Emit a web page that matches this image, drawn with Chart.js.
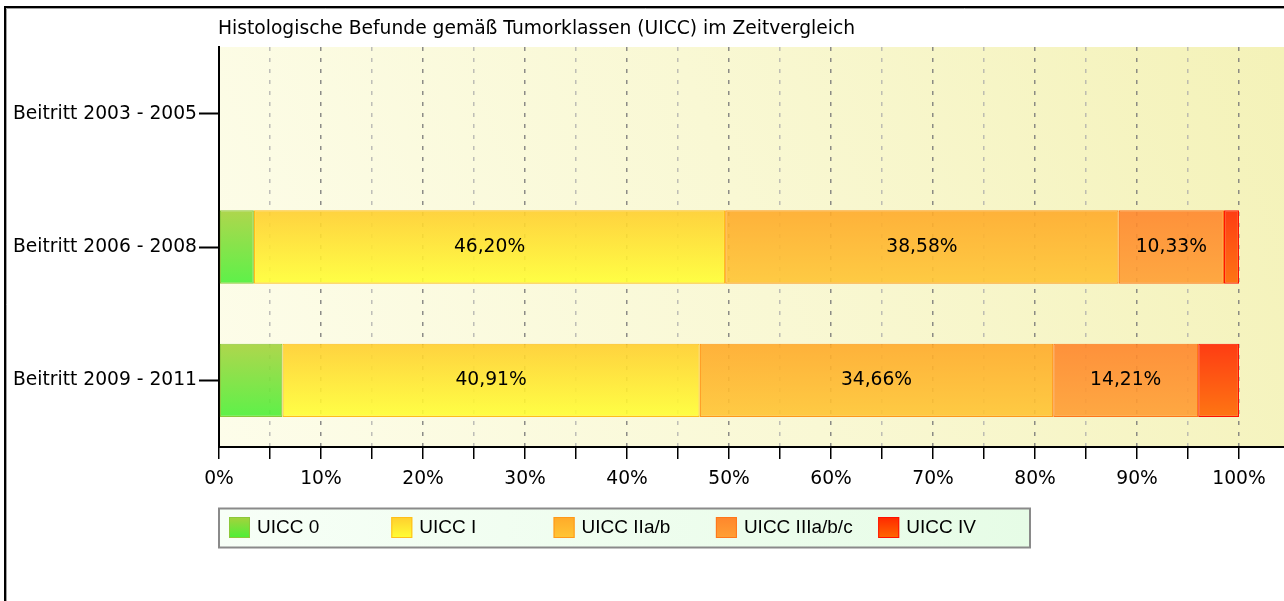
<!DOCTYPE html>
<html><head><meta charset="utf-8">
<script src="https://cdn.jsdelivr.net/npm/chart.js@4.4.0/dist/chart.umd.min.js"></script>
<style>html,body{margin:0;padding:0;background:#fff;overflow:hidden}#wrap{width:1284px;height:601px;position:relative}</style>
</head><body><div id="wrap"><canvas id="c" width="1284" height="601"></canvas></div>
<script>
// ---- data ----
const TITLE = 'Histologische Befunde gemäß Tumorklassen (UICC) im Zeitvergleich';
const categories = ['Beitritt 2003 - 2005', 'Beitritt 2006 - 2008', 'Beitritt 2009 - 2011'];
const seriesNames = ['UICC 0', 'UICC I', 'UICC IIa/b', 'UICC IIIa/b/c', 'UICC IV'];
const uicc0 = [null, 3.42, 6.22];
const uicc1 = [null, 46.20, 40.91];
const uicc2 = [null, 38.58, 34.66];
const uicc3 = [null, 10.33, 14.21];
const uicc4 = [null, 1.47, 4.00];
const xTickValues = [0, 10, 20, 30, 40, 50, 60, 70, 80, 90, 100];
const xTickLabels = ['0%', '10%', '20%', '30%', '40%', '50%', '60%', '70%', '80%', '90%', '100%'];

// ---- styles ----
const palette = [
  {top: [166, 210, 60], bottom: [76, 240, 56], border: '#8cc83a'},
  {top: [255, 206, 46], bottom: [255, 255, 52], border: '#ffbe1a'},
  {top: [255, 170, 42], bottom: [255, 198, 52], border: '#ff981a'},
  {top: [255, 134, 44], bottom: [255, 160, 52], border: '#ff761a'},
  {top: [255, 40, 0], bottom: [255, 104, 0], border: '#ff1000'}
];
const BAR_PCT = 0.55;
const X_MAX = 104.41;
const LABEL_MIN = 8;
const FONT = '"DejaVu Sans"';
const FS = 18.7;

const rgba = (c, a) => `rgba(${c[0]},${c[1]},${c[2]},${a})`;
function barGradient(ctx, p) {
  const chart = ctx.chart, area = chart.chartArea;
  if (!area || !chart.scales.y) return rgba(p.bottom, 0.9);
  const cy = chart.scales.y.getPixelForValue(ctx.dataIndex);
  const half = (area.bottom - area.top) / categories.length * BAR_PCT / 2;
  const g = chart.ctx.createLinearGradient(0, cy - half, 0, cy + half);
  g.addColorStop(0, rgba(p.top, 0.9));
  g.addColorStop(1, rgba(p.bottom, 0.9));
  return g;
}
const fmt = v => v.toFixed(2).replace('.', ',') + '%';

const seriesValues = [uicc0, uicc1, uicc2, uicc3, uicc4];
const datasets = seriesNames.map((name, i) => ({
  label: name,
  data: seriesValues[i],
  backgroundColor: ctx => barGradient(ctx, palette[i]),
  borderColor: palette[i].border,
  borderWidth: 1.2,
  borderSkipped: false,
  barPercentage: BAR_PCT,
  categoryPercentage: 1.0
}));

const decor = {
  id: 'decor',
  beforeDraw(chart) {
    const {ctx, chartArea: a} = chart;
    ctx.save();
    ctx.fillStyle = '#fff';
    ctx.fillRect(0, 0, chart.width, chart.height);
    const g = ctx.createLinearGradient(a.left, a.bottom, a.right, a.top);
    g.addColorStop(0, '#fdfdea');
    g.addColorStop(0.5, '#f9f8d4');
    g.addColorStop(1, '#f4f2b8');
    ctx.fillStyle = g;
    ctx.fillRect(a.left, a.top, a.right - a.left, a.bottom - a.top);
    ctx.restore();
  },
  afterDatasetsDraw(chart) {
    const ctx = chart.ctx;
    ctx.save();
    ctx.font = `${FS}px ${FONT}`;
    ctx.fillStyle = '#000';
    ctx.textAlign = 'center';
    ctx.textBaseline = 'middle';
    chart.data.datasets.forEach((ds, di) => {
      const meta = chart.getDatasetMeta(di);
      meta.data.forEach((el, i) => {
        const v = ds.data[i];
        if (v == null || v < LABEL_MIN) return;
        ctx.fillText(fmt(v), (el.x + el.base) / 2, el.y);
      });
    });
    ctx.restore();
  },
  afterDraw(chart) {
    const ctx = chart.ctx;
    ctx.save();
    // title
    ctx.font = `${FS}px ${FONT}`;
    ctx.fillStyle = '#000';
    ctx.textAlign = 'left';
    ctx.textBaseline = 'alphabetic';
    ctx.fillText(TITLE, 218, 34);
    // legend box
    const bx = 219, by = 508.5, bw = 811, bh = 39;
    const lg = ctx.createLinearGradient(bx, by, bx + bw, by + bh);
    lg.addColorStop(0, '#f7fff7');
    lg.addColorStop(1, '#e6fce6');
    ctx.fillStyle = lg;
    ctx.fillRect(bx, by, bw, bh);
    ctx.lineWidth = 2;
    ctx.strokeStyle = '#8a8a8a';
    ctx.strokeRect(bx, by, bw, bh);
    ctx.font = '19px "Liberation Sans"';
    ctx.textBaseline = 'middle';
    chart.data.datasets.forEach((ds, i) => {
      const x = 229 + i * 162.3, y = 517;
      const p = palette[i];
      const g = ctx.createLinearGradient(0, y, 0, y + 21);
      g.addColorStop(0, rgba(p.top, 1));
      g.addColorStop(1, rgba(p.bottom, 1));
      ctx.fillStyle = g;
      ctx.fillRect(x, y, 21, 21);
      ctx.lineWidth = 1;
      ctx.strokeStyle = p.border;
      ctx.strokeRect(x + 0.5, y + 0.5, 20, 20);
      ctx.fillStyle = '#000';
      ctx.fillText(ds.label, x + 28, y + 11);
    });
    // frame
    ctx.strokeStyle = '#000';
    ctx.lineWidth = 2;
    ctx.beginPath();
    ctx.moveTo(5, chart.height);
    ctx.lineTo(5, 7);
    ctx.lineTo(chart.width, 7);
    ctx.stroke();
    ctx.strokeStyle = '#a0a0a0';
    ctx.lineWidth = 1;
    ctx.beginPath();
    ctx.moveTo(6.5, chart.height);
    ctx.lineTo(6.5, 8.5);
    ctx.lineTo(chart.width, 8.5);
    ctx.stroke();
    ctx.restore();
  }
};

Chart.defaults.font.family = FONT;
Chart.defaults.color = '#000';

new Chart(document.getElementById('c'), {
  type: 'bar',
  data: {labels: categories, datasets},
  options: {
    indexAxis: 'y',
    responsive: false,
    animation: false,
    devicePixelRatio: 1,
    layout: {padding: {top: 47, right: 0, bottom: 114, left: 0}},
    plugins: {legend: {display: false}, tooltip: {enabled: false}, title: {display: false}},
    scales: {
      x: {
        type: 'linear', stacked: true, min: 0, max: X_MAX, position: 'bottom',
        ticks: {
          stepSize: 5, includeBounds: false, autoSkip: false, maxRotation: 0, minRotation: 0,
          padding: 9, color: '#000', font: {family: FONT, size: FS},
          callback: v => {
            const i = xTickValues.findIndex(t => Math.abs(t - v) < 1e-6);
            return i >= 0 ? xTickLabels[i] : '';
          }
        },
        grid: {
          color: c => (c.tick && Math.round(c.tick.value) % 10 === 0) ? 'rgba(120,120,120,0.85)' : 'rgba(170,170,170,0.75)',
          lineWidth: 1.5, tickLength: 12, tickColor: '#000', tickWidth: 1.5, drawOnChartArea: true
        },
        border: {display: true, color: '#000', width: 2, dash: [4, 7]},
        afterFit: s => { s.height = 40; }
      },
      y: {
        type: 'category', stacked: true, offset: true,
        grid: {offset: false, drawOnChartArea: false, drawTicks: true, tickLength: 20, tickColor: '#000', tickWidth: 2},
        border: {display: true, color: '#000', width: 2},
        ticks: {padding: 2, color: '#000', font: {family: FONT, size: FS}},
        afterFit: s => { s.width = 219; }
      }
    }
  },
  plugins: [decor]
});
</script>
</body></html>
